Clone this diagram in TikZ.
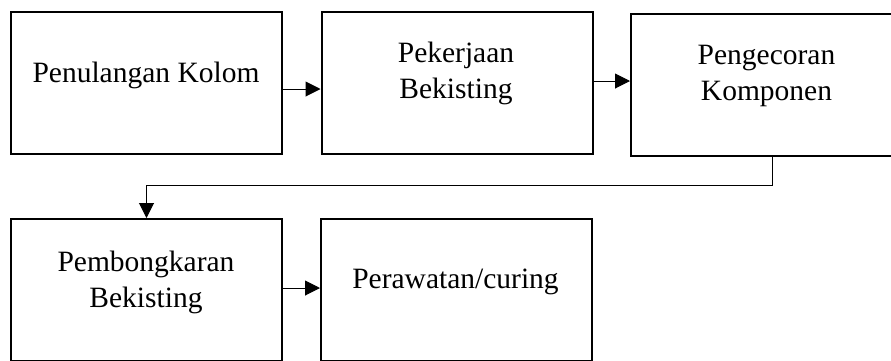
\documentclass[tikz,border=0pt]{standalone}
\usepackage{fontspec}
\setmainfont{Liberation Serif}
\usetikzlibrary{arrows.meta,calc}

\tikzset{
  stepbox/.style={draw=black, line width=2pt, rectangle, minimum width=271pt, minimum height=142pt, inner sep=0pt},
  boxtext/.style={anchor=base, align=center, inner sep=0pt, font=\fontsize{29.5pt}{36pt}\selectfont},
  flow/.style={line width=1pt, -{Triangle[length=15pt, width=15pt]}}
}

\begin{document}
\begin{tikzpicture}[x=1pt, y=-1pt]
  \useasboundingbox (0,0) rectangle (891,360);
  \clip (0,0) rectangle (891,360);

  % process boxes
  \node[stepbox] (b1) at (146.5,83) {};
  \node[stepbox] (b2) at (457,83) {};
  \node[stepbox] (b3) at (766.5,84.5) {};
  \node[stepbox] (b4) at (146.5,290) {};
  \node[stepbox] (b5) at (456.5,290) {};

  % box captions (base anchor sits on the last line)
  \node[boxtext] (t1) at (146,82) {Penulangan Kolom};
  \node[boxtext] (t2) at (456,98) {Pekerjaan\\Bekisting};
  \node[boxtext] (t3) at (766.5,100) {Pengecoran\\Komponen};
  \node[boxtext] (t4) at (146,307) {Pembongkaran\\Bekisting};
  \node[boxtext] (t5) at (455.5,288) {Perawatan/curing};

  % connectors
  \draw[flow] ([yshift=-6pt]b1.east) -- ([yshift=-6pt]b1.east -| b2.west);
  \draw[flow] ([yshift=2pt]b2.east) -- ([yshift=2pt]b2.east -| b3.west);
  \coordinate (bend) at (0,185);
  \draw[flow] ([xshift=5.5pt]b3.south) -- ([xshift=5.5pt]b3.south |- bend)
      -- (bend -| b4.north) -- (b4.north);
  \draw[flow] ([yshift=2pt]b4.east) -- ([yshift=2pt]b4.east -| b5.west);
\end{tikzpicture}
\end{document}
